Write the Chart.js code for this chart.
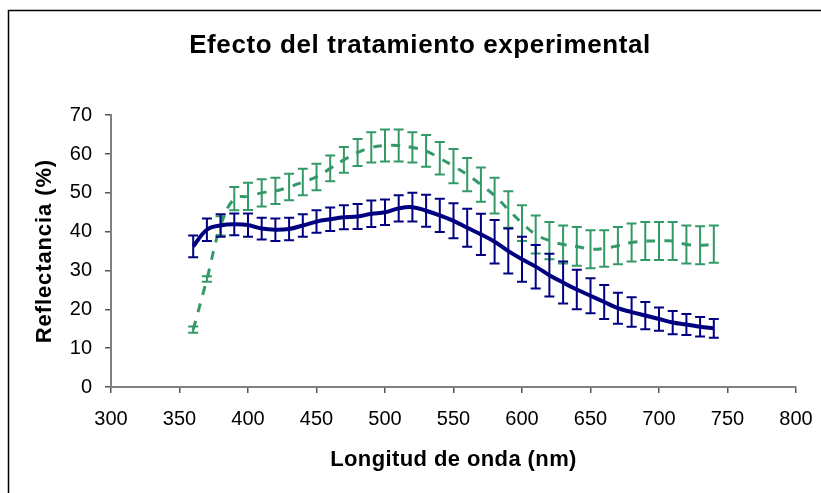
<!DOCTYPE html>
<html>
<head>
<meta charset="utf-8">
<script src="https://cdn.jsdelivr.net/npm/chart.js@4/dist/chart.umd.min.js"></script>
<style>
  html, body { margin: 0; padding: 0; background: #fff; }
  #wrap { width: 821px; height: 493px; }
</style>
</head>
<body>
<div id="wrap"><canvas id="reflChart"></canvas></div>
<script>
// wavelength (nm)
const wavelengths = [360, 370, 380, 390, 400, 410, 420, 430, 440, 450, 460, 470, 480, 490, 500,
  510, 520, 530, 540, 550, 560, 570, 580, 590, 600, 610, 620, 630, 640, 650, 660, 670, 680, 690,
  700, 710, 720, 730, 740];

// solid navy series: mean and error
const blueMean = [36.2, 40.5, 41.6, 41.9, 41.7, 40.8, 40.5, 40.7, 41.6, 42.6, 43.2, 43.7, 43.9, 44.6, 45.0,
  46.0, 46.3, 45.4, 44.2, 42.8, 41.0, 39.3, 37.4, 35.0, 32.9, 31.0, 28.8, 26.9, 25.1, 23.5, 21.9, 20.3,
  19.3, 18.4, 17.5, 16.6, 16.1, 15.5, 15.1];
const blueErr = [2.8, 2.9, 2.9, 2.8, 3.0, 2.8, 2.9, 2.9, 2.9, 2.9, 3.0, 3.1, 3.2, 3.4, 3.3,
  3.4, 3.7, 4.1, 4.3, 4.5, 4.9, 5.3, 5.6, 5.8, 5.8, 5.6, 5.5, 5.4, 5.1, 4.5, 4.4, 4.0,
  3.8, 3.5, 3.0, 3.0, 2.7, 2.5, 2.4];

// dashed green series: mean and error
const greenMean = [14.8, 27.8, 41.5, 48.5, 49.1, 50.0, 50.5, 51.5, 52.8, 54.1, 56.3, 58.5, 60.4, 61.7, 62.2,
  62.2, 61.7, 60.8, 58.9, 56.9, 54.7, 52.1, 49.3, 45.7, 42.2, 39.3, 37.7, 36.7, 36.2, 35.5, 35.7, 36.4,
  37.2, 37.6, 37.6, 37.6, 36.7, 36.5, 36.8];
const greenErr = [0.8, 0.7, 2.5, 3.0, 3.5, 3.5, 3.4, 3.4, 3.4, 3.4, 3.3, 3.3, 3.5, 3.9, 4.1,
  4.1, 3.9, 4.1, 4.2, 4.4, 4.3, 4.4, 4.6, 4.7, 4.6, 4.9, 4.8, 4.9, 5.0, 4.9, 4.7, 4.8,
  4.9, 4.9, 4.9, 4.9, 4.9, 4.9, 4.8];

const NAVY = "#000080";
const GREEN = "#339966";

// the bold titles in the picture are drawn a little wider than plain Arial
const SPACING = { title: "0.6px", x: "0.4px", y: "0.9px" };
const TITLE_SHIFT = 12;

const origScaleTitle = Chart.Scale.prototype.drawTitle;
Chart.Scale.prototype.drawTitle = function (...args) {
  const ctx = this.ctx;
  ctx.letterSpacing = SPACING[this.id] || "0px";
  origScaleTitle.apply(this, args);
  ctx.letterSpacing = "0px";
};

if (Chart.Title && Chart.Title._element) {
  const origTitleDraw = Chart.Title._element.prototype.draw;
  Chart.Title._element.prototype.draw = function (...args) {
    const ctx = this.ctx;
    ctx.save();
    ctx.translate(TITLE_SHIFT, 0);
    ctx.letterSpacing = SPACING.title;
    origTitleDraw.apply(this, args);
    ctx.letterSpacing = "0px";
    ctx.restore();
  };
}

function toPoints(ys) {
  return wavelengths.map((x, i) => ({ x: x, y: ys[i] }));
}

// draws the vertical error bars for each dataset, using the chart scales
const errorBars = {
  id: "errorBars",
  afterDatasetDraw(chart, args) {
    const ds = chart.data.datasets[args.index];
    if (!ds.errors) return;
    const { ctx, scales: { x, y } } = chart;
    ctx.save();
    ctx.strokeStyle = ds.errorColor;
    ctx.lineWidth = 2;
    ctx.setLineDash([]);
    ds.data.forEach((p, i) => {
      const px = x.getPixelForValue(p.x);
      const top = y.getPixelForValue(p.y + ds.errors[i]);
      const bot = y.getPixelForValue(p.y - ds.errors[i]);
      ctx.beginPath();
      ctx.moveTo(px, top); ctx.lineTo(px, bot);
      ctx.moveTo(px - 5, top); ctx.lineTo(px + 5, top);
      ctx.moveTo(px - 5, bot); ctx.lineTo(px + 5, bot);
      ctx.stroke();
    });
    ctx.restore();
  }
};

// outer chart-area frame (left and top edges visible in the picture)
const frame = {
  id: "frame",
  beforeDraw(chart) {
    const ctx = chart.ctx;
    ctx.save();
    ctx.fillStyle = "#fff";
    ctx.fillRect(0, 0, chart.width, chart.height);
    ctx.strokeStyle = "#000";
    ctx.lineWidth = 1.5;
    ctx.strokeRect(8.5, 10.5, 900, 600);
    ctx.restore();
  }
};

Chart.defaults.font.family = "'Liberation Sans', Arial, sans-serif";
Chart.defaults.color = "#000";

new Chart(document.getElementById("reflChart"), {
  type: "line",
  data: {
    datasets: [
      {
        label: "Serie 1",
        data: toPoints(blueMean),
        errors: blueErr,
        errorColor: NAVY,
        borderColor: NAVY,
        borderWidth: 4,
        tension: 0.4,
        pointRadius: 0,
        fill: false
      },
      {
        label: "Serie 2",
        data: toPoints(greenMean),
        errors: greenErr,
        errorColor: GREEN,
        borderColor: GREEN,
        borderWidth: 3,
        borderDash: [9, 9],
        tension: 0.4,
        pointRadius: 0,
        fill: false
      }
    ]
  },
  options: {
    responsive: true,
    maintainAspectRatio: false,
    animation: false,
    layout: { padding: { left: 20, right: 25, top: 0, bottom: 0 } },
    plugins: {
      legend: { display: false },
      tooltip: { enabled: false },
      title: {
        display: true,
        text: "Efecto del tratamiento experimental",
        font: { size: 26, weight: "bold" },
        padding: { top: 30, bottom: 54 }
      }
    },
    scales: {
      x: {
        type: "linear",
        min: 300,
        max: 800,
        ticks: { stepSize: 50, font: { size: 20 }, padding: 14, maxRotation: 0 },
        grid: { drawOnChartArea: false, tickLength: 6, color: "#555", lineWidth: 1.5 },
        border: { color: "#808080", width: 2 },
        title: {
          display: true,
          text: "Longitud de onda (nm)",
          font: { size: 22, weight: "bold" },
          padding: { top: 0, bottom: 19.5 }
        },
        afterFit(scale) {
          scale.height = 106;
          scale.paddingLeft = 0;
          scale.paddingRight = 0;
        }
      },
      y: {
        min: 0,
        max: 70,
        ticks: { stepSize: 10, font: { size: 20 }, padding: 13 },
        grid: { drawOnChartArea: false, tickLength: 6, color: "#555", lineWidth: 1.5 },
        border: { color: "#808080", width: 2 },
        title: {
          display: true,
          text: "Reflectancia (%)",
          font: { size: 22, weight: "bold" },
          padding: { top: 12, bottom: 0 }
        },
        afterFit(scale) { scale.width = 91; }
      }
    }
  },
  plugins: [frame, errorBars]
});
</script>
</body>
</html>
